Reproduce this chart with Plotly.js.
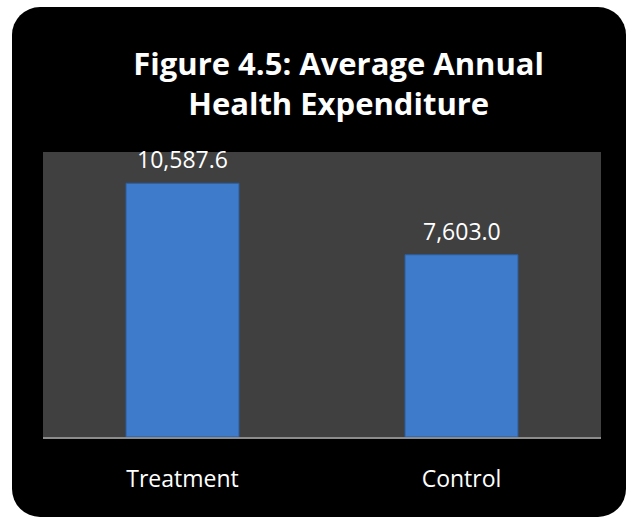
<!DOCTYPE html>
<html>
<head>
<meta charset="utf-8">
<script src="https://cdn.plot.ly/plotly-3.0.1.min.js"></script>
<style>
html, body { margin:0; padding:0; background:#ffffff; }
#frame { position:absolute; left:12px; top:7px; width:614px; height:510px; background:#000000; border-radius:28px; }
#chart { position:absolute; left:0; top:0; width:626px; height:521px; }
</style>
</head>
<body>
<div id="frame"></div>
<div id="chart"></div>
<script>
const categories = ["Treatment", "Control"];
const expenditure = [10587.6, 7603.0];
const chartTitle = "Figure 4.5: Average Annual<br>Health Expenditure";

const fmt = v => v.toLocaleString("en-US", { minimumFractionDigits: 1, maximumFractionDigits: 1 });

const trace = {
  type: "bar",
  x: categories,
  y: expenditure,
  width: 0.405,
  marker: { color: "#3e7bca", line: { color: "#2d5c9c", width: 1 } },
  hoverinfo: "skip"
};

const valueLabels = categories.map((c, i) => ({
  x: c, y: expenditure[i], xref: "x", yref: "y",
  text: fmt(expenditure[i]), showarrow: false,
  yanchor: "bottom", yshift: 6,
  font: { color: "#ffffff", size: 23, family: "Open Sans, sans-serif" }
}));

const layout = {
  width: 626, height: 521,
  margin: { l: 43, r: 25, t: 152, b: 84 },
  paper_bgcolor: "rgba(0,0,0,0)",
  plot_bgcolor: "#404040",
  showlegend: false,
  title: {
    text: chartTitle,
    font: { family: "Open Sans, sans-serif", size: 31, color: "#ffffff", weight: "bold" },
    xref: "container", x: 0.541, xanchor: "center",
    yref: "container", y: 0.857, yanchor: "top"
  },
  xaxis: {
    showline: true, linecolor: "#8c8c8c", linewidth: 2,
    ticks: "", ticklabelstandoff: 20,
    tickfont: { color: "#ffffff", size: 23, family: "Open Sans, sans-serif" },
    showgrid: false, zeroline: false
  },
  yaxis: {
    range: [0, 11890], visible: false, showgrid: false, zeroline: false
  },
  annotations: valueLabels,
  font: { family: "Open Sans, sans-serif", color: "#ffffff" }
};

Plotly.newPlot("chart", [trace], layout, { displayModeBar: false, staticPlot: true });
</script>
</body>
</html>
